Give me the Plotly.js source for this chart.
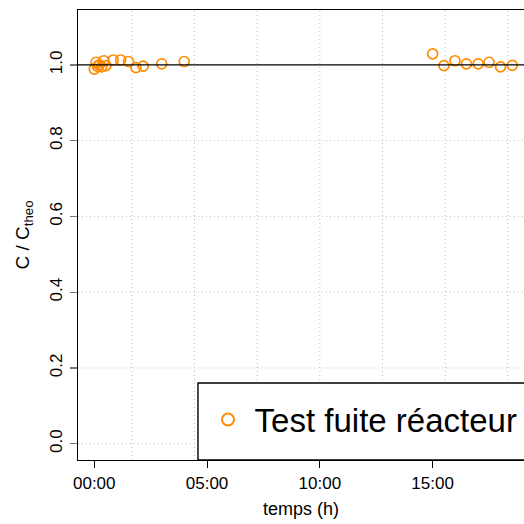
<!DOCTYPE html>
<html>
<head>
<meta charset="utf-8">
<script src="https://cdn.plot.ly/plotly-3.0.1.min.js"></script>
<style>html,body{margin:0;padding:0;background:#fff;overflow:hidden}#chart{width:524px;height:524px}</style>
</head>
<body>
<div id="chart"></div>
<script>
// Data (time in hours, C/Ctheo)
const timeHours = [0.0, 0.08, 0.15, 0.22, 0.33, 0.43, 0.52, 0.84, 1.17, 1.52, 1.85, 2.17, 2.99, 3.99,
                   15.0, 15.5, 15.99, 16.5, 17.02, 17.5, 18.01, 18.53];
const ratio = [0.989, 1.007, 0.996, 1.0, 0.995, 1.011, 0.998, 1.013, 1.013, 1.009, 0.993, 0.997, 1.003, 1.009,
               1.029, 0.998, 1.011, 1.003, 1.003, 1.007, 0.995, 0.999];
const seriesName = "Test fuite réacteur";
const xTickVals = [0, 5, 10, 15];
const xTickText = ["00:00", "05:00", "10:00", "15:00"];
const yTickVals = [0, 0.2, 0.4, 0.6, 0.8];
const yTickLabelVals = [0, 0.2, 0.4, 0.6, 0.8, 1.0];
const yTickText = ["0.0", "0.2", "0.4", "0.6", "0.8", "1.0"];
const xGrid = [1.667, 4.444, 7.222, 10, 12.778, 15.556, 18.333];
const refLevel = 1.0;

const xRange = [-0.72, 19.05];
const yRange = [-0.043, 1.145];

const gridLine = {color:'#bdbdbd', width:1, dash:'1px,3px'};
const shapes = [];
xGrid.forEach(g => shapes.push({type:'line', xref:'x', yref:'paper', x0:g, x1:g, y0:0, y1:1,
  line:gridLine, layer:'below'}));
yTickVals.forEach(g => shapes.push({type:'line', xref:'paper', yref:'y', x0:0, x1:1, y0:g, y1:g,
  line:gridLine, layer:'below'}));
shapes.push({type:'line', xref:'paper', yref:'y', x0:0, x1:1, y0:refLevel, y1:refLevel,
  line:{color:'#000', width:1.4}, layer:'above'});
// legend box
shapes.push({type:'rect', xref:'paper', yref:'paper', x0:0.269, x1:1.05, y0:0, y1:0.171,
  fillcolor:'#fff', line:{color:'#000', width:1.4}, layer:'above'});

const trace = {
  x: timeHours, y: ratio, type:'scatter', mode:'markers', name: '\u2009' + seriesName,
  marker:{symbol:'circle-open', size:10, color:'#FF8C00', line:{width:1.7, color:'#FF8C00'}},
  showlegend:true
};

const layout = {
  width:524, height:524,
  margin:{l:78, r:0, t:10, b:64},
  paper_bgcolor:'#fff', plot_bgcolor:'#fff',
  font:{family:'"Liberation Sans", Arial, sans-serif', color:'#000', size:17},
  showlegend:true,
  legend:{x:0.2915, y:0.09, xanchor:'left', yanchor:'middle', bgcolor:'rgba(0,0,0,0)', borderwidth:0,
          itemsizing:'constant', font:{size:33, color:'#000'}},
  xaxis:{range:xRange, tickmode:'array', tickvals:xTickVals, ticktext:xTickText,
         showgrid:false, zeroline:false, showline:true, mirror:true, linecolor:'#000', linewidth:1.4,
         ticks:'outside', ticklen:7, tickcolor:'#000', tickwidth:1, ticklabelstandoff:0,
         tickfont:{size:17},
         title:{text:'temps (h)', font:{size:18}, standoff:10}},
  yaxis:{range:yRange, tickmode:'array', tickvals:yTickLabelVals, ticktext:yTickText, tickangle:-90,
         showgrid:false,
         zeroline:false, showline:true, mirror:false, linecolor:'#000', linewidth:1.4,
         ticks:'outside', ticklen:7, tickcolor:'#777', tickwidth:1.4, ticklabelstandoff:1,
         tickfont:{size:17},
         title:{text:'C / C<sub>theo</sub>', font:{size:19}, standoff:12}},
  shapes: shapes
};

Plotly.newPlot('chart', [trace], layout, {displayModeBar:false, staticPlot:true});
</script>
</body>
</html>
